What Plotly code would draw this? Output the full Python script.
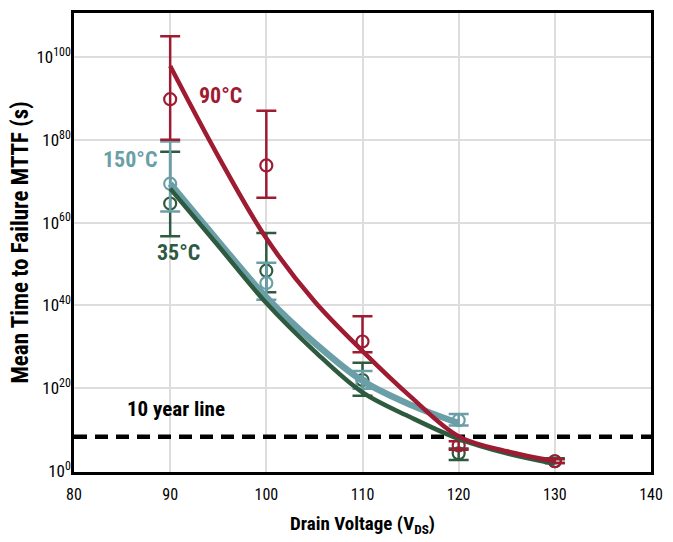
import plotly.graph_objects as go

# ---- data (log10 of MTTF in seconds) ----
x_meas = [90, 100, 110, 120, 130]

red_pt = [89.8, 73.8, 31.3, 6.2, 2.4]
red_up = [105.0, 87.0, 37.4, 7.2, 2.9]
red_dn = [80.0, 66.0, 28.7, 5.2, 2.0]

teal_x = [90, 100, 110, 120]
teal_pt = [69.4, 45.4, 21.1, 12.3]
teal_up = [79.6, 50.3, 24.2, 13.8]
teal_dn = [62.7, 41.4, 19.9, 11.0]

green_pt = [64.6, 48.4, 22.0, 4.3, 2.4]
green_up = [77.1, 57.5, 26.2, 5.5, 3.1]
green_dn = [56.7, 43.2, 18.2, 2.7, 2.0]

fit_x = [90, 95, 100, 105, 110, 115, 120, 125, 130]
red_fit = [97.8, 76.0, 56.2, 41.0, 29.0, 18.0, 8.4, 4.8, 2.4]
teal_fit_x = [90, 95, 100, 105, 110, 115, 120]
teal_fit = [69.4, 55.5, 42.0, 31.0, 21.8, 16.0, 11.6]
green_fit = [68.2, 54.4, 40.6, 29.0, 19.0, 13.0, 7.8, 4.3, 1.8]

ten_year_log = 8.3

x_ticks = [80, 90, 100, 110, 120, 130, 140]
y_tick_exp = [0, 20, 40, 60, 80, 100]

RED = "#9E1B32"
TEAL = "#6B9FA8"
GREEN = "#2E5A3F"
FONT = "Roboto Condensed, DejaVu Sans Condensed, Liberation Sans Narrow, Roboto, sans-serif"


def lin(v):
    return [10.0 ** float(a) for a in v]


def errs(pt, up, dn):
    return ([10.0 ** u - 10.0 ** p for u, p in zip(up, pt)],
            [10.0 ** p - 10.0 ** d for p, d in zip(pt, dn)])


fig = go.Figure()

# 10 year line
fig.add_trace(go.Scatter(x=[80, 140], y=[10.0 ** ten_year_log] * 2, mode="lines",
                         line=dict(color="black", width=4.5, dash="13px,8px"),
                         showlegend=False, hoverinfo="skip"))

# error bars + markers
def add_pts(xs, pt, up, dn, color):
    e_up, e_dn = errs(pt, up, dn)
    fig.add_trace(go.Scatter(
        x=xs, y=lin(pt), mode="markers",
        marker=dict(symbol="circle-open", size=12, color=color, line=dict(width=2.2)),
        error_y=dict(type="data", array=e_up, arrayminus=e_dn, symmetric=False,
                     color=color, thickness=2.5, width=10),
        showlegend=False))

add_pts(x_meas, green_pt, green_up, green_dn, GREEN)
add_pts(teal_x, teal_pt, teal_up, teal_dn, TEAL)
add_pts(x_meas, red_pt, red_up, red_dn, RED)

# fit curves
fig.add_trace(go.Scatter(x=teal_fit_x, y=lin(teal_fit), mode="lines",
                         line=dict(color=TEAL, width=6.5, shape="spline"), showlegend=False))
fig.add_trace(go.Scatter(x=fit_x, y=lin(green_fit), mode="lines",
                         line=dict(color=GREEN, width=4.5, shape="spline"), showlegend=False))
fig.add_trace(go.Scatter(x=fit_x, y=lin(red_fit), mode="lines",
                         line=dict(color=RED, width=4.5, shape="spline"), showlegend=False))

# labels
fig.add_annotation(x=95.2, y=90.6, text="<b>90°C</b>", showarrow=False,
                   font=dict(family=FONT, size=22, color=RED))
fig.add_annotation(x=85.8, y=75.3, text="<b>150°C</b>", showarrow=False,
                   font=dict(family=FONT, size=22, color=TEAL))
fig.add_annotation(x=90.9, y=52.9, text="<b>35°C</b>", showarrow=False,
                   font=dict(family=FONT, size=22, color=GREEN))
fig.add_annotation(x=90.6, y=15.1, text="<b>10 year line</b>", showarrow=False,
                   font=dict(family=FONT, size=21, color="black"))

fig.update_layout(
    width=673, height=542,
    margin=dict(l=74, r=12, t=10, b=68),
    paper_bgcolor="white", plot_bgcolor="white",
    font=dict(family=FONT, size=15, color="black"),
)
fig.update_xaxes(range=[80, 140], tickvals=x_ticks, ticktext=[str(t) for t in x_ticks],
                 showgrid=True, gridcolor="#dddddd", gridwidth=2,
                 showline=True, linecolor="black", linewidth=3, mirror=True,
                 ticks="", zeroline=False, tickfont=dict(size=16), ticklabelstandoff=6,
                 ticklabeloverflow="allow",
                 title=dict(text="<b>Drain Voltage (V<sub>DS</sub>)</b>", font=dict(size=19), standoff=14))
fig.update_yaxes(type="log", range=[-0.2, 110.6],
                 tickvals=[10.0 ** e for e in y_tick_exp],
                 ticktext=["10<sup>%d</sup>" % e for e in y_tick_exp],
                 showgrid=True, gridcolor="#dddddd", gridwidth=2,
                 showline=True, linecolor="black", linewidth=2.5, mirror=True,
                 ticks="", zeroline=False, tickfont=dict(size=17), ticklabelstandoff=-3,
                 title=dict(text="<b>Mean Time to Failure MTTF (s)</b>", font=dict(size=23), standoff=2))

fig.write_html("out.html", config={"displayModeBar": False},
               post_script="document.body.style.margin='0';")
